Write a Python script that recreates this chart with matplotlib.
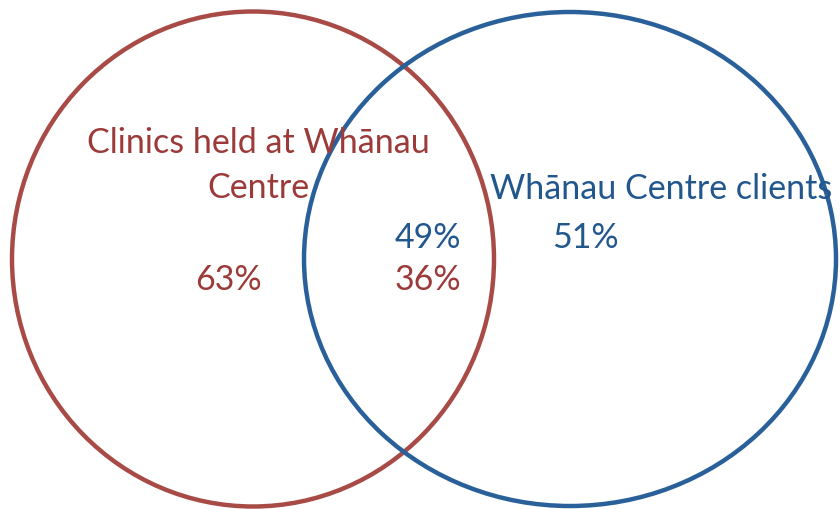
import matplotlib.pyplot as plt
from matplotlib.patches import Ellipse

# Venn sets: label, percentages
left_label = ["Clinics held at Whānau", "Centre"]
right_label = "Whānau Centre clients"
left_only = "63%"
right_only = "51%"
overlap_right = "49%"
overlap_left = "36%"

red = "#A84B47"
red_text = "#9B3A38"
blue = "#2A6099"
blue_text = "#22578E"

plt.rcParams['font.family'] = ['Lato', 'DejaVu Sans']

fig = plt.figure(figsize=(8.4, 5.1), dpi=100)
ax = fig.add_axes([0, 0, 1, 1])
ax.set_xlim(0, 840)
ax.set_ylim(510, 0)
ax.axis('off')

# Две окружности
ax.add_patch(Ellipse((253, 260), 482, 495, fill=False, edgecolor=red, linewidth=3.2))
ax.add_patch(Ellipse((570, 260), 532, 494, fill=False, edgecolor=blue, linewidth=3.2))

fs = 24.5
ax.text(258, 143, left_label[0], color=red_text, fontsize=fs, ha='center', va='center')
ax.text(258, 188, left_label[1], color=red_text, fontsize=fs, ha='center', va='center')
ax.text(661, 189, right_label, color=blue_text, fontsize=fs, ha='center', va='center')
ax.text(228, 280, left_only, color=red_text, fontsize=fs, ha='center', va='center')
ax.text(585, 238, right_only, color=blue_text, fontsize=fs, ha='center', va='center')
ax.text(428, 238, overlap_right, color=blue_text, fontsize=fs, ha='center', va='center')
ax.text(428, 280, overlap_left, color=red_text, fontsize=fs, ha='center', va='center')

fig.savefig("out.png", dpi=100)
